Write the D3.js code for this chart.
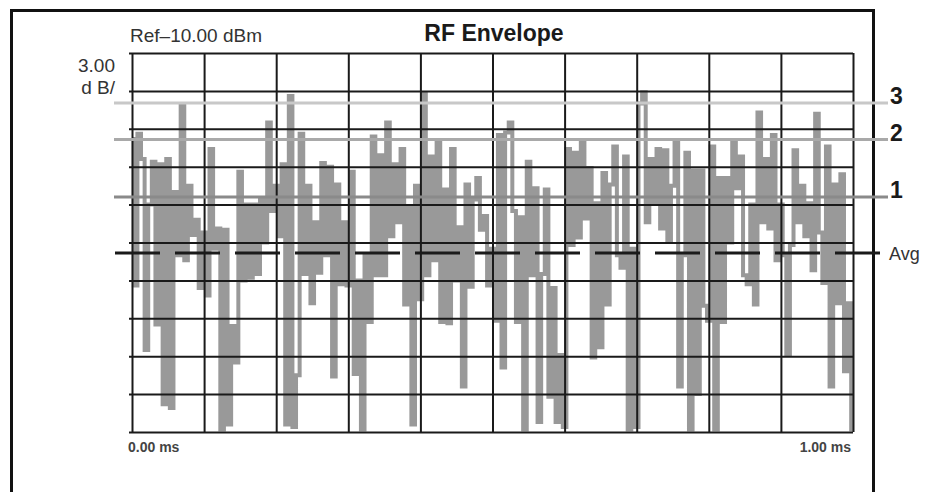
<!DOCTYPE html>
<html>
<head>
<meta charset="utf-8">
<script src="https://cdn.jsdelivr.net/npm/d3@7"></script>
<style>
  body { margin: 0; background: #fff; }
  svg { display: block; font-family: "Liberation Sans", Arial, sans-serif; }
</style>
</head>
<body>
<svg width="926" height="492"></svg>
<script>
// envelope samples (dBm), 201 points over 0..1 ms
var envelope = [
  -16.8, -28.4, -16.4, -18.4, -33.5, -22.0, -18.6, -31.5, -18.8, -37.8,
  -18.4, -38.1, -21.0, -26.0, -14.1, -26.4, -20.5, -24.4, -23.2, -28.6,
  -24.2, -29.2, -17.6, -25.5, -23.9, -39.8, -24.0, -39.4, -31.6, -34.5,
  -19.4, -28.0, -22.0, -27.8, -22.0, -27.5, -21.5, -25.0, -15.5, -22.5,
  -20.5, -24.5, -18.8, -39.4, -13.4, -39.6, -35.5, -16.4, -27.5, -20.5,
  -29.8, -23.4, -27.4, -18.7, -26.0, -19.0, -35.6, -20.4, -28.3, -23.4,
  -28.4, -19.4, -35.4, -28.0, -39.8, -26.0, -31.3, -16.6, -27.6, -18.1,
  -27.6, -15.5, -24.5, -18.8, -23.4, -17.6, -29.9, -22.2, -39.4, -20.5,
  -29.5, -13.2, -27.6, -18.2, -26.4, -17.0, -31.3, -20.8, -31.4, -17.6,
  -28.0, -23.8, -36.4, -20.4, -28.5, -21.6, -19.9, -24.0, -22.9, -28.4,
  -25.5, -31.2, -16.5, -34.9, -16.3, -15.5, -22.5, -31.3, -23.0, -39.8,
  -18.6, -27.6, -20.7, -39.2, -27.5, -20.8, -37.2, -28.6, -39.2, -33.9,
  -39.6, -17.6, -25.2, -17.9, -24.6, -16.9, -23.1, -19.1, -34.1, -21.9,
  -33.3, -19.5, -29.9, -20.4, -17.4, -26.0, -27.0, -18.2, -39.8, -25.5,
  -39.6, -14.0, -13.1, -23.4, -18.4, -21.8, -17.6, -23.9, -17.7, -24.9,
  -20.5, -16.9, -36.4, -26.0, -17.9, -39.8, -19.3, -37.0, -19.3, -30.0,
  -31.2, -17.4, -39.8, -19.9, -31.3, -19.9, -25.0, -17.0, -20.7, -18.2,
  -27.6, -28.3, -22.0, -29.9, -14.7, -23.4, -18.4, -23.9, -16.5, -26.4,
  -22.0, -26.0, -33.9, -25.2, -17.7, -23.4, -20.5, -24.5, -21.9, -27.2,
  -14.8, -24.2, -28.2, -17.4, -36.4, -20.4, -29.8, -19.6, -35.2, -29.8,
  -39.8
];

// marker lines (dBm)
var markerNames = ["3", "2", "1"];
var markerLevels = [-13.96, -16.85, -21.4];
var markerColors = ["#c8c8c8", "#a9a9a9", "#8a8a8a"];
var avgLevel = -25.83;

var timeLabels = ["0.00 ms", "1.00 ms"];

var svg = d3.select("svg"),
    margin = {top: 53, left: 132, right: 73, bottom: 60},
    width = 926 - margin.left - margin.right,
    height = 492 - margin.top - margin.bottom;

var x = d3.scaleLinear().domain([0, 1]).range([margin.left, margin.left + width]);
var y = d3.scaleLinear().domain([-40, -10]).range([margin.top + height, margin.top]);

// outer frame (open at the bottom)
svg.append("path")
    .attr("d", "M11.5,492 V10.5 H873.5 V492")
    .attr("fill", "none")
    .attr("stroke", "#111")
    .attr("stroke-width", 3);

// trace
var line = d3.line()
    .x(function (d, i) { return x(i / (envelope.length - 1)); })
    .y(function (d) { return y(d); })
    .curve(d3.curveStep);

svg.append("path")
    .datum(envelope)
    .attr("fill", "none")
    .attr("stroke", "#999")
    .attr("stroke-width", 4)
    .attr("d", line);

// grid
var gx = svg.append("g")
    .attr("transform", "translate(0," + (margin.top + height) + ")")
    .call(d3.axisBottom(x).ticks(10).tickSize(-height).tickFormat(""));
gx.select(".domain").remove();

var gy = svg.append("g")
    .attr("transform", "translate(" + (margin.left - 3) + ",0)")
    .call(d3.axisLeft(y).tickValues(d3.range(-40, -9, 3)).tickSize(-(width + 3)).tickFormat(""));
gy.select(".domain").remove();

svg.selectAll(".tick line")
    .attr("stroke", "#1a1a1a")
    .attr("stroke-width", 2);

// marker lines
markerLevels.forEach(function (v, i) {
    svg.append("line")
        .attr("x1", 114).attr("x2", 888)
        .attr("y1", y(v)).attr("y2", y(v))
        .attr("stroke", markerColors[i])
        .attr("stroke-width", 3);
    svg.append("text")
        .attr("x", 890)
        .attr("y", y(v) + 1)
        .attr("font-size", 23)
        .attr("font-weight", "bold")
        .attr("fill", "#1a1a1a")
        .text(markerNames[i]);
});

svg.append("line")
    .attr("x1", 115).attr("x2", 882)
    .attr("y1", y(avgLevel)).attr("y2", y(avgLevel))
    .attr("stroke", "#1a1a1a")
    .attr("stroke-width", 3)
    .attr("stroke-dasharray", "45,15");

svg.append("text")
    .attr("x", 889)
    .attr("y", y(avgLevel) + 7)
    .attr("font-size", 18)
    .attr("fill", "#333")
    .text("Avg");

// header texts
svg.append("text")
    .attr("x", 130).attr("y", 42)
    .attr("font-size", 19)
    .attr("fill", "#333")
    .text("Ref\u201310.00 dBm");

svg.append("text")
    .attr("x", 494).attr("y", 41)
    .attr("text-anchor", "middle")
    .attr("font-size", 23)
    .attr("font-weight", "bold")
    .attr("fill", "#1a1a1a")
    .text("RF Envelope");

svg.append("text")
    .attr("x", 115).attr("y", 72)
    .attr("text-anchor", "end")
    .attr("font-size", 19)
    .attr("fill", "#333")
    .text("3.00");

svg.append("text")
    .attr("x", 115).attr("y", 94)
    .attr("text-anchor", "end")
    .attr("font-size", 19)
    .attr("fill", "#333")
    .text("d B/");

// time labels
svg.append("text")
    .attr("x", x(0) - 4).attr("y", 452)
    .attr("font-size", 14)
    .attr("font-weight", "bold")
    .attr("fill", "#444")
    .text(timeLabels[0]);

svg.append("text")
    .attr("x", x(1) - 2).attr("y", 452)
    .attr("text-anchor", "end")
    .attr("font-size", 14)
    .attr("font-weight", "bold")
    .attr("fill", "#444")
    .text(timeLabels[1]);
</script>
</body>
</html>
